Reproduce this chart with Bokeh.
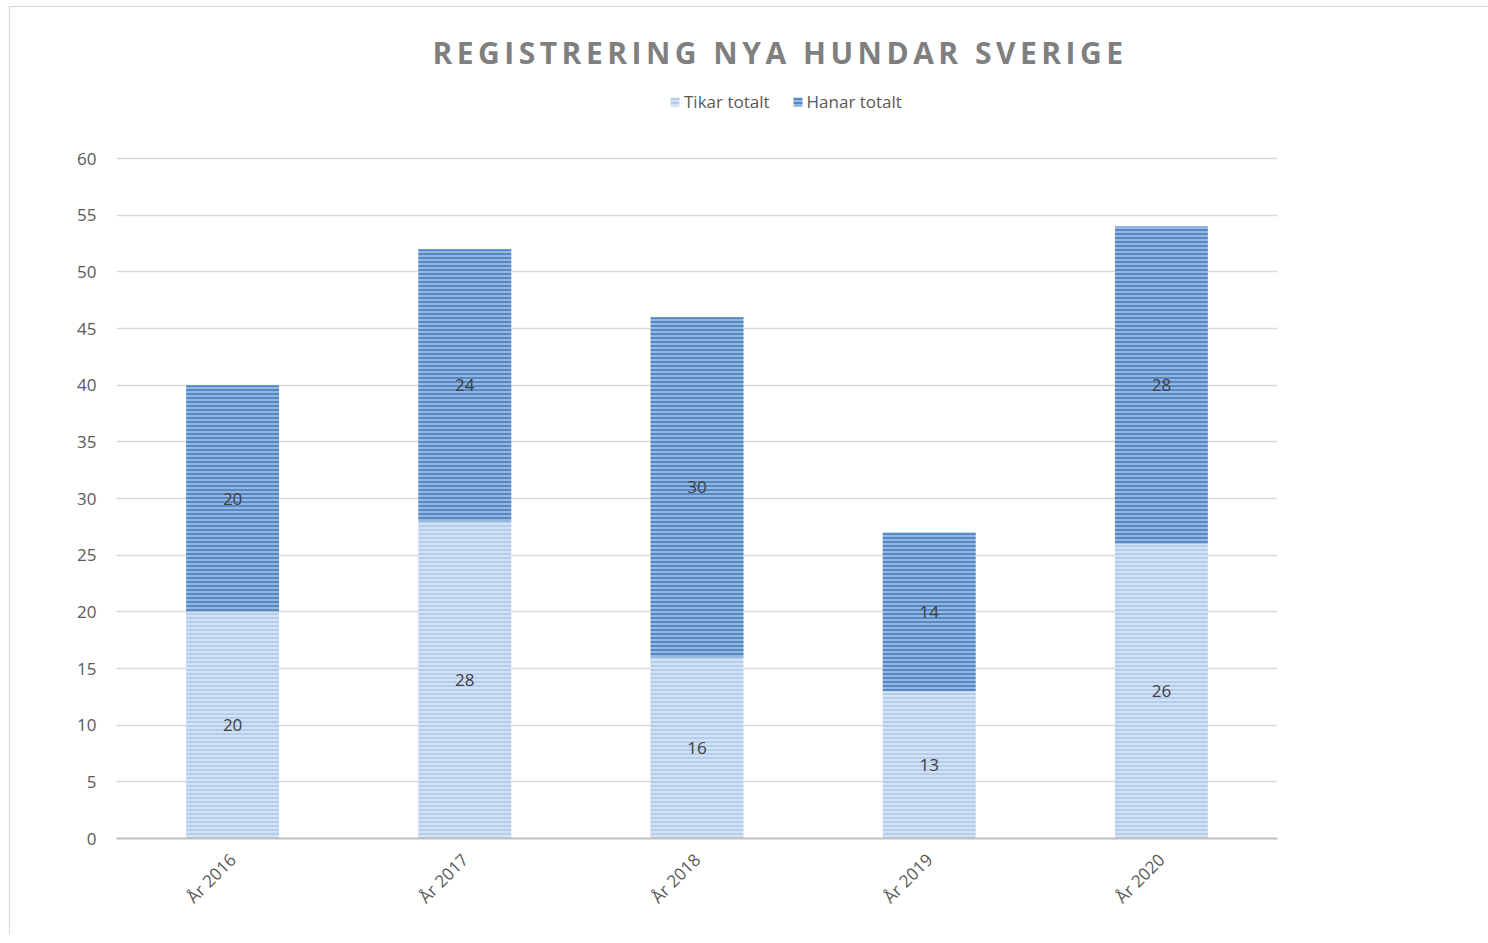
import numpy as np
from math import pi
from bokeh.plotting import figure
from bokeh.layouts import column
from bokeh.models import (ColumnDataSource, FactorRange, Range1d, FixedTicker,
                          LabelSet, Legend, LegendItem, Div)
from bokeh.core.properties import value
from bokeh.embed import file_html
from bokeh.resources import INLINE

years = ["År 2016", "År 2017", "År 2018", "År 2019", "År 2020"]
tikar = [20, 28, 16, 13, 26]
hanar = [20, 24, 30, 14, 28]
y_ticks = [0, 5, 10, 15, 20, 25, 30, 35, 40, 45, 50, 55, 60]
title_text = "REGISTRERING NYA HUNDAR SVERIGE"
series_names = ["Tikar totalt", "Hanar totalt"]

FONT = "Open Sans"
TXT = "#595959"

# layout (page pixels)
OX = 10              # content origin x (after 9px margin + 1px border)
TOP_Y = 7            # content origin y (after 6px margin + 1px border)
DIV_H = 70           # title strip height
GAP = 10             # observed extra offset between strip and figure
OY = TOP_Y + DIV_H + GAP   # figure canvas origin y
W = 1470
H = 927 - DIV_H - GAP
LEFT, RIGHT_EDGE = 116 - OX, 1277 - OX
TOP, BOTTOM = 0, 838 - OY
AXIS_TOP_PX = 158 - OY
y_max_tick = max(y_ticks)
y_end = y_max_tick * (BOTTOM - TOP) / (BOTTOM - AXIS_TOP_PX)

t = np.array(tikar, dtype=float)
h = np.array(hanar, dtype=float)
src = ColumnDataSource(dict(
    x=years, t_top=t, h_bottom=t, h_top=t + h,
    t_mid=t / 2, h_mid=t + h / 2,
    t_lab=[str(v) for v in tikar], h_lab=[str(v) for v in hanar],
))

title_div = Div(
    text=(f'<div style="margin-left:60px;width:1410px;text-align:center;padding-top:23px;'
          f'font-family:\'Open Sans\';font-weight:bold;font-size:30px;line-height:36px;'
          f'letter-spacing:4.5px;color:#7f7f7f;white-space:nowrap;">{title_text}</div>'),
    width=W, height=DIV_H, styles={"background-color": "white"})

p = figure(x_range=FactorRange(*years, range_padding=0), y_range=Range1d(0, y_end),
           width=W, height=H, output_backend="svg", toolbar_location=None,
           min_border_left=LEFT, min_border_right=W - RIGHT_EDGE,
           min_border_top=TOP, min_border_bottom=H - BOTTOM)
p.outline_line_color = None
p.background_fill_color = "white"
p.border_fill_color = "white"

r1 = p.vbar(x="x", bottom=0, top="t_top", width=0.4, source=src,
            fill_color="#d3e2f4", line_color=None,
            hatch_pattern="horizontal_line", hatch_color="#aec8ea", hatch_scale=4, hatch_weight=1.6)
r2 = p.vbar(x="x", bottom="h_bottom", top="h_top", width=0.4, source=src,
            fill_color="#93b6e2", line_color=None,
            hatch_pattern="horizontal_line", hatch_color="#4f82bf", hatch_scale=4, hatch_weight=1.8)

for col, lab in (("t_mid", "t_lab"), ("h_mid", "h_lab")):
    ls = LabelSet(x="x", y=col, text=lab, source=src, text_align="center", text_baseline="middle",
                  text_color="#404040", text_font=value(FONT), text_font_size="17px")
    p.add_layout(ls)

# axes
p.yaxis.ticker = FixedTicker(ticks=y_ticks)
p.yaxis.axis_line_color = None
p.yaxis.major_tick_line_color = None
p.yaxis.minor_tick_line_color = None
p.yaxis.major_label_text_color = TXT
p.yaxis.major_label_text_font = FONT
p.yaxis.major_label_text_font_size = "17px"
p.yaxis.major_label_standoff = 14

p.xaxis.axis_line_color = "#bfbfbf"
p.xaxis.axis_line_width = 2
p.xaxis.major_tick_line_color = None
p.xaxis.minor_tick_line_color = None
p.xaxis.major_label_orientation = pi / 4
p.xaxis.major_label_text_color = TXT
p.xaxis.major_label_text_font = FONT
p.xaxis.major_label_text_font_size = "17px"
p.xaxis.major_label_standoff = 12

p.xgrid.grid_line_color = None
p.ygrid.grid_line_color = "#d9d9d9"
p.ygrid.grid_line_width = 1.5

legend = Legend(items=[LegendItem(label=series_names[0], renderers=[r1]),
                       LegendItem(label=series_names[1], renderers=[r2])],
                location=(669 - OX - LEFT, BOTTOM - (113 - OY)), orientation="horizontal",
                glyph_width=11, glyph_height=11, label_standoff=4, spacing=22,
                padding=0, margin=0, border_line_color=None, background_fill_alpha=0,
                label_text_font=FONT, label_text_font_size="17px", label_text_color=TXT)
p.add_layout(legend)

layout = column(title_div, p, spacing=0,
                styles={"margin-left": "9px", "margin-top": "6px",
                        "border-left": "1px solid #d6d6d6", "border-top": "1px solid #d6d6d6"})

open("out.html", "w").write(file_html(layout, INLINE))
